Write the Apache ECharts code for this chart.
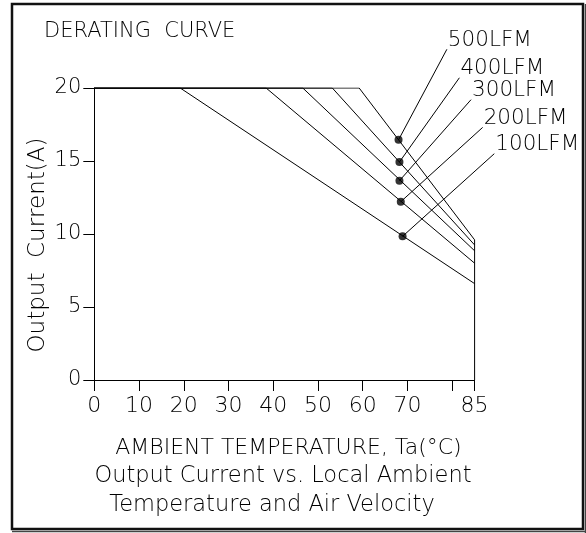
<!DOCTYPE html>
<html>
<head>
<meta charset="utf-8">
<script src="https://cdn.jsdelivr.net/npm/echarts@6/dist/echarts.min.js"></script>
<style>
html,body{margin:0;padding:0;background:#fff;}
#chart{width:586px;height:533px;}
</style>
</head>
<body>
<div id="chart"></div>
<script>
// ---- data ----
const airflow = ['100LFM', '200LFM', '300LFM', '400LFM', '500LFM'];
const ratedCurrent = 20;                                   // A, flat part of every curve
const derateStartTemp = [19.2, 38.4, 46.6, 53.2, 59.2];   // °C where derating begins
const maxTemp = 85;                                        // °C
const endCurrent = [6.6, 8.0, 8.85, 9.25, 9.6];            // A at 85 °C
const markerTemp = [68.9, 68.5, 68.2, 68.2, 68.0];
const markerCurrent = [9.84, 12.21, 13.65, 14.93, 16.45];
const labelAnchorTemp = [89.4, 86.8, 84.2, 81.6, 78.8];
const labelAnchorCurrent = [15.5, 17.3, 19.2, 20.7, 22.65];
const xTicks = [0, 10, 20, 30, 40, 50, 60, 70, 80, 85];
const xTickLabels = [0, 10, 20, 30, 40, 50, 60, 70, 85];

const FONT = '"DejaVu Sans"';
const FW = 200;
const INK = '#000';

const series = [];
airflow.forEach((name, i) => {
  series.push({
    name: name,
    type: 'line',
    data: [[0, ratedCurrent], [derateStartTemp[i], ratedCurrent], [maxTemp, endCurrent[i]]],
    symbol: 'none',
    lineStyle: { color: INK, width: 1 },
    silent: true,
    z: 2
  });
});
// vertical boundary at 85 °C
series.push({
  name: 'limit',
  type: 'line',
  data: [[maxTemp, endCurrent[endCurrent.length - 1]], [maxTemp, 0]],
  symbol: 'none',
  lineStyle: { color: INK, width: 1 },
  silent: true
});
// markers
series.push({
  name: 'markers',
  type: 'scatter',
  data: markerTemp.map((t, i) => [t, markerCurrent[i]]),
  symbol: 'circle',
  symbolSize: 8,
  itemStyle: { color: INK },
  silent: true,
  z: 5
});

const chart = echarts.init(document.getElementById('chart'), null, { renderer: 'canvas' });
chart.setOption({
  animation: false,
  backgroundColor: '#fff',
  title: {
    text: 'DERATING  CURVE',
    left: 39, top: 16,
    textStyle: { fontFamily: FONT, fontWeight: FW, fontSize: 21, color: INK }
  },
  grid: { left: 94.3, right: 111.4, top: 88, bottom: 153 },
  xAxis: {
    type: 'value',
    min: 0, max: maxTemp,
    name: 'AMBIENT TEMPERATURE, Ta(°C)',
    nameLocation: 'middle',
    nameGap: 57,
    nameTextStyle: { fontFamily: FONT, fontWeight: FW, fontSize: 22, color: INK, padding: [0, 0, 0, 8] },
    axisLine: { show: true, lineStyle: { color: INK, width: 1 } },
    axisTick: { show: true, inside: false, length: 11, customValues: xTicks, lineStyle: { color: INK } },
    axisLabel: { customValues: xTickLabels, margin: 15, fontFamily: FONT, fontWeight: FW, fontSize: 22, color: INK },
    splitLine: { show: false }
  },
  yAxis: {
    type: 'value',
    min: 0, max: 20, interval: 5,
    name: 'Output  Current(A)',
    nameLocation: 'middle',
    nameGap: 45,
    nameMoveOverlap: false,
    nameRotate: 90,
    nameTextStyle: { fontFamily: FONT, fontWeight: FW, fontSize: 23, color: INK, padding: [0, 22, 0, 0] },
    axisLine: { show: true, lineStyle: { color: INK, width: 1 } },
    axisTick: { show: true, inside: false, length: 11, lineStyle: { color: INK } },
    axisLabel: { margin: 13, fontFamily: FONT, fontWeight: FW, fontSize: 21, color: INK },
    splitLine: { show: false }
  },
  graphic: [
    { id: 'frame', type: 'rect', shape: { x: 12, y: 4, width: 571, height: 525 },
      style: { fill: null, stroke: '#111', lineWidth: 2.5 }, z: 100 },
    { id: 'frameB', type: 'line', shape: { x1: 12, y1: 531.5, x2: 586, y2: 531.5 }, style: { stroke: '#444', lineWidth: 1.5 }, z: 100 },
    { id: 'frameR', type: 'line', shape: { x1: 585.5, y1: 4, x2: 585.5, y2: 533 }, style: { stroke: '#444', lineWidth: 1.5 }, z: 100 },
    { id: 'sub1', type: 'text', x: 283, y: 476,
      style: { text: 'Output Current vs. Local Ambient', fontFamily: FONT, fontWeight: FW, fontSize: 22.5, fill: INK, align: 'center', verticalAlign: 'middle' } },
    { id: 'sub2', type: 'text', x: 272, y: 505,
      style: { text: 'Temperature and Air Velocity', fontFamily: FONT, fontWeight: FW, fontSize: 22.5, fill: INK, align: 'center', verticalAlign: 'middle' } }
  ],
  series: series
});

// leader lines and airflow labels, positioned through the chart's own scales
const extra = [];
airflow.forEach((name, i) => {
  const p0 = chart.convertToPixel({ gridIndex: 0 }, [markerTemp[i], markerCurrent[i]]);
  const p1 = chart.convertToPixel({ gridIndex: 0 }, [labelAnchorTemp[i], labelAnchorCurrent[i]]);
  extra.push({
    id: 'leader' + i, type: 'line', silent: true, z: 3,
    shape: { x1: p0[0], y1: p0[1], x2: p1[0], y2: p1[1] },
    style: { stroke: INK, lineWidth: 1 }
  });
  extra.push({
    id: 'label' + i, type: 'text', silent: true, z: 3,
    x: p1[0] + 1, y: p1[1] + 2,
    style: { text: name, fontFamily: FONT, fontWeight: FW, fontSize: 21.5, fill: INK, align: 'left', verticalAlign: 'bottom' }
  });
});
chart.setOption({ graphic: extra });
</script>
</body>
</html>
